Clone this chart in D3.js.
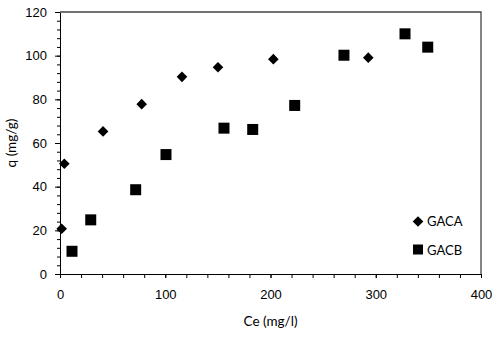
<!DOCTYPE html>
<html>
<head>
<meta charset="utf-8">
<script src="https://cdn.jsdelivr.net/npm/d3@7"></script>
<style>
  body { margin: 0; background: #fff; }
  svg { display: block; font-family: Lato, "Open Sans", sans-serif; }
  .tick text { font-size: 13px; fill: #000; }
</style>
</head>
<body>
<div id="chart"></div>
<script>
// GACA (diamonds)
var gacaCe = [1.6, 4.1, 40.9, 77.6, 115.9, 150.1, 202.7, 292.9];
var gacaQ  = [20.7, 50.5, 65.3, 77.8, 90.3, 94.7, 98.4, 99.1];
// GACB (squares)
var gacbCe = [11.4, 29.2, 71.9, 100.7, 155.8, 183.1, 223.0, 269.8, 327.8, 349.4];
var gacbQ  = [10.4, 24.8, 38.6, 54.7, 66.8, 66.2, 77.2, 100.2, 110.0, 103.9];

var xTicks = [0, 100, 200, 300, 400];
var yTicks = [0, 20, 40, 60, 80, 100, 120];

var margin = {top: 12, right: 19, bottom: 64, left: 60};
var width = 500 - margin.left - margin.right,
    height = 338 - margin.top - margin.bottom;

var svg = d3.select("#chart").append("svg")
    .attr("width", 500)
    .attr("height", 338)
  .append("g")
    .attr("transform", "translate(" + margin.left + "," + margin.top + ")");

var xScale = d3.scaleLinear().domain([0, 400]).range([0, width]);
var yScale = d3.scaleLinear().domain([0, 120]).range([height, 0]);

// minor ticks first, then major axes on top
svg.append("g")
    .attr("transform", "translate(0," + height + ")")
    .call(d3.axisBottom(xScale).tickValues(d3.range(0, 401, 20)).tickSize(4).tickFormat(""))
    .call(function(g) { g.select(".domain").remove(); });

svg.append("g")
    .call(d3.axisLeft(yScale).tickValues(d3.range(0, 121, 4)).tickSize(3).tickFormat(""))
    .call(function(g) { g.select(".domain").remove(); });

svg.append("g")
    .attr("class", "x axis")
    .attr("transform", "translate(0," + height + ")")
    .call(d3.axisBottom(xScale).tickValues(xTicks).tickSize(4).tickSizeOuter(0).tickPadding(12));

svg.append("g")
    .attr("class", "y axis")
    .call(d3.axisLeft(yScale).tickValues(yTicks).tickSize(5).tickSizeOuter(0).tickPadding(8));

// top and right border
svg.append("path")
    .attr("d", "M0,0H" + width + "V" + height)
    .attr("fill", "none")
    .attr("stroke", "#444")
    .attr("stroke-width", 1.3);

svg.selectAll(".domain").attr("stroke", "#000");
svg.selectAll(".tick line").attr("stroke", "#000");

var gaca = gacaCe.map(function(d, i) { return {x: d, y: gacaQ[i]}; });
var gacb = gacbCe.map(function(d, i) { return {x: d, y: gacbQ[i]}; });

var diamond = d3.symbol().type(d3.symbolDiamond2).size(72);

svg.selectAll(".gaca")
    .data(gaca)
  .enter().append("path")
    .attr("class", "gaca")
    .attr("d", diamond)
    .attr("transform", function(d) { return "translate(" + xScale(d.x) + "," + yScale(d.y) + ")"; })
    .attr("fill", "#000");

var sq = 11;
svg.selectAll(".gacb")
    .data(gacb)
  .enter().append("rect")
    .attr("class", "gacb")
    .attr("x", function(d) { return xScale(d.x) - sq / 2; })
    .attr("y", function(d) { return yScale(d.y) - sq / 2; })
    .attr("width", sq)
    .attr("height", sq)
    .attr("fill", "#000");

// legend
var legend = svg.append("g").attr("transform", "translate(" + (418 - margin.left) + "," + (221.5 - margin.top) + ")");
legend.append("path").attr("d", diamond).attr("fill", "#000");
legend.append("text").attr("x", 9).attr("y", 0).attr("dy", "0.35em")
    .style("font-size", "13px").text("GACA");
legend.append("rect").attr("x", -5).attr("y", 23).attr("width", 10).attr("height", 10).attr("fill", "#000");
legend.append("text").attr("x", 9).attr("y", 28.5).attr("dy", "0.35em")
    .style("font-size", "13px").text("GACB");

// axis titles
svg.append("text")
    .attr("x", width / 2)
    .attr("y", height + 52)
    .attr("text-anchor", "middle")
    .style("font-size", "13.5px")
    .text("Ce (mg/l)");

svg.append("text")
    .attr("transform", "rotate(-90)")
    .attr("x", -height / 2)
    .attr("y", -44)
    .attr("text-anchor", "middle")
    .style("font-size", "13.5px")
    .text("q (mg/g)");
</script>
</body>
</html>
